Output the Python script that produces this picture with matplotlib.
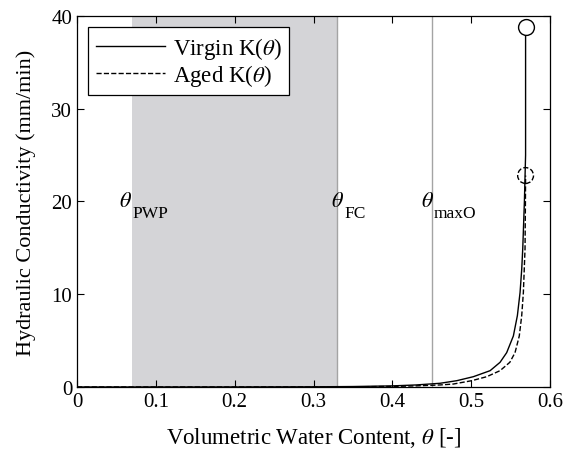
import matplotlib
matplotlib.use("Agg")
import matplotlib.pyplot as plt

plt.rcParams['font.family'] = ['Liberation Serif', 'DejaVu Serif']
plt.rcParams['mathtext.fontset'] = 'stix'

# Data
theta_virgin = [0.0, 0.1, 0.2, 0.3, 0.35, 0.4, 0.43, 0.4605, 0.4817, 0.5027, 0.524,
                0.5366, 0.545, 0.5535, 0.5586, 0.562, 0.5641, 0.5654, 0.5675, 0.569, 0.569]
K_virgin = [0.0, 0.001, 0.005, 0.02, 0.05, 0.12, 0.22, 0.4, 0.68, 1.11, 1.76,
            2.66, 3.7, 5.5, 7.7, 10.2, 12.7, 14.9, 20.0, 25.0, 38.8]

theta_aged = [0.0, 0.2, 0.3, 0.35, 0.4, 0.43, 0.4605, 0.4774, 0.5007, 0.5197, 0.5366,
              0.549, 0.5556, 0.561, 0.5641, 0.5662, 0.5683, 0.5688, 0.569]
K_aged = [0.0, 0.001, 0.008, 0.02, 0.06, 0.12, 0.22, 0.32, 0.68, 1.11, 1.76,
          2.66, 3.7, 5.5, 7.7, 10.2, 14.9, 20.0, 22.8]

theta_pwp = 0.07
theta_fc = 0.33
theta_maxo = 0.45

region_labels = ['PWP', 'FC', 'maxO']
label_x = [0.053, 0.322, 0.436]
label_y = 19.5

fig = plt.figure(figsize=(5.76, 4.52), dpi=100)
ax = fig.add_axes([0.1337, 0.1416, 0.8212, 0.8208])

ax.axvspan(theta_pwp, theta_fc, color='#d4d4d7', lw=0, zorder=0)
ax.axvline(theta_fc, color='#a4a4a4', lw=1.0, zorder=1)
ax.axvline(theta_maxo, color='#a4a4a4', lw=1.0, zorder=1)

ax.plot(theta_virgin, K_virgin, color='k', lw=1.0, label=r'Virgin K($\theta$)', zorder=3)
ax.plot(theta_aged, K_aged, color='k', lw=1.0, ls='--', label=r'Aged K($\theta$)', zorder=3)

ax.scatter([theta_virgin[-1]], [K_virgin[-1]], s=130, facecolors='white',
           edgecolors='k', linewidths=1.0, zorder=4)
ax.scatter([theta_aged[-1]], [K_aged[-1]], s=130, facecolors='none',
           edgecolors='k', linewidths=1.0, linestyles='--', zorder=4)

for lab, xx in zip(region_labels, label_x):
    ax.text(xx, label_y, r'$\theta$', fontsize=16, ha='left', va='baseline')
    ax.annotate(lab, xy=(xx, label_y), xycoords='data', xytext=(9.5, -7.5),
                textcoords='offset points', fontsize=12.5, ha='left', va='baseline')

ax.set_xlim(0, 0.6)
ax.set_ylim(0, 40)
ax.set_xticks([0, 0.1, 0.2, 0.3, 0.4, 0.5, 0.6])
ax.set_xticklabels(['0', '0.1', '0.2', '0.3', '0.4', '0.5', '0.6'])
ax.set_yticks([0, 10, 20, 30, 40])
ax.tick_params(direction='in', top=True, right=True, labelsize=15, length=5, width=0.8)
for s in ax.spines.values():
    s.set_linewidth(0.9)

ax.set_xlabel(r'Volumetric Water Content, $\theta$ [-]', fontsize=16.5, labelpad=10)
ax.set_ylabel('Hydraulic Conductivity (mm/min)', fontsize=16, labelpad=11)

leg = ax.legend(loc='upper left', fontsize=16.5, fancybox=False, framealpha=1,
                edgecolor='k', handlelength=3.0, handletextpad=0.35,
                borderaxespad=0.5, borderpad=0.32, labelspacing=0.05)
leg.get_frame().set_linewidth(0.9)

fig.savefig('out.png', dpi=100)
